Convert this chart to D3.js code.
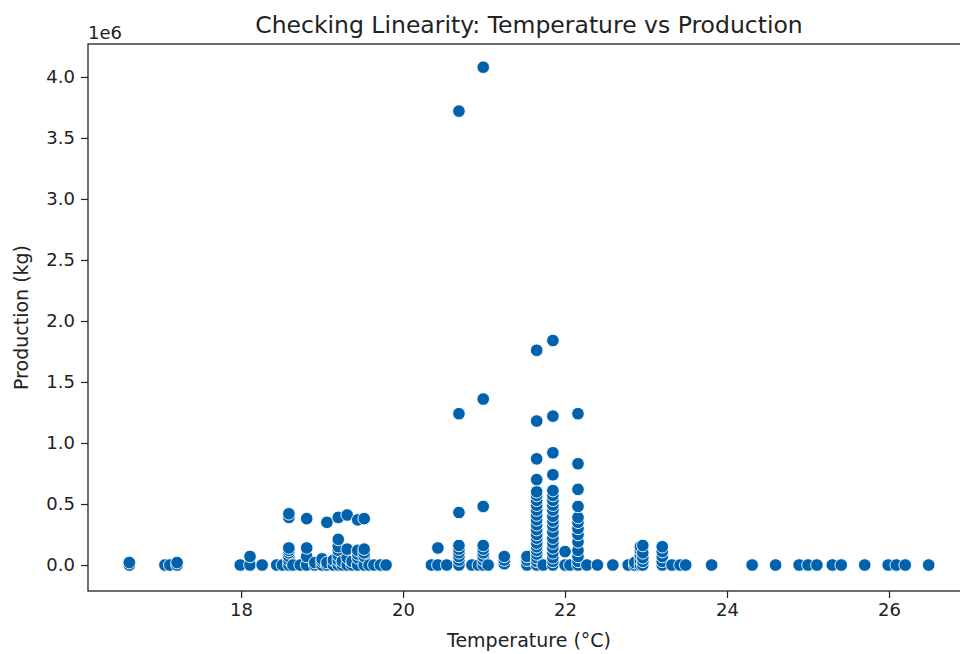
<!DOCTYPE html>
<meta charset="utf-8">
<style>
body { margin: 0; background: white; }
text { font-family: "DejaVu Sans", sans-serif; fill: #222; }
</style>
<script src="https://d3js.org/d3.v7.min.js"></script>
<div id="chart"></div>
<script>

// temperature columns (°C) and the productions (in kg) seen at each of them
var temps = [16.62, 17.06, 17.12, 17.21, 17.99, 18.11, 18.26,
  18.44, 18.51, 18.59, 18.64, 18.73, 18.81, 18.91, 19.0, 19.06, 19.14, 19.2,
  19.25, 19.31, 19.37, 19.44, 19.52, 19.58, 19.64, 19.72, 19.79,
  20.35, 20.43, 20.54, 20.69, 20.85, 20.93, 20.99, 21.05, 21.25, 21.53,
  21.65, 21.73, 21.85, 22.0, 22.06, 22.16, 22.27, 22.4, 22.59, 22.78, 22.86,
  22.93, 22.96, 23.2, 23.32, 23.42, 23.49, 23.81, 24.31, 24.6, 24.89, 25.0,
  25.11, 25.3, 25.41, 25.7, 25.99, 26.09, 26.2, 26.49];

// production values in millions of kg, one list per temperature above
var prodM = [
  [0, 0.02], [0], [0], [0, 0.02], [0], [0, 0.07], [0],
  [0], [0], [0, 0.04, 0.07, 0.1, 0.12, 0.14, 0.39, 0.42], [0], [0],
  [0, 0.07, 0.14, 0.38], [0, 0.02], [0, 0.03, 0.05], [0, 0.02, 0.35], [0, 0.04],
  [0, 0.04, 0.08, 0.12, 0.15, 0.21, 0.39],
  [0, 0.03], [0, 0.06, 0.13, 0.41], [0, 0.03], [0, 0.06, 0.09, 0.12, 0.37],
  [0, 0.07, 0.1, 0.13, 0.38], [0], [0], [0], [0],
  [0], [0, 0.14], [0], [0, 0.04, 0.07, 0.1, 0.13, 0.16, 0.43, 1.24, 3.72], [0], [0],
  [0, 0.04, 0.07, 0.1, 0.13, 0.16, 0.48, 1.36, 4.08], [0], [0.01, 0.04, 0.07], [0, 0.04, 0.07],
  [0, 0.03, 0.06, 0.09, 0.12, 0.15, 0.18, 0.22, 0.25, 0.29, 0.33, 0.37, 0.41, 0.45,
   0.49, 0.53, 0.57, 0.6, 0.7, 0.87, 1.18, 1.76],
  [0],
  [0, 0.03, 0.06, 0.1, 0.14, 0.18, 0.22, 0.27, 0.32, 0.36, 0.4, 0.45, 0.49, 0.53,
   0.57, 0.61, 0.74, 0.92, 1.22, 1.84],
  [0, 0.11], [0],
  [0, 0.03, 0.07, 0.12, 0.19, 0.25, 0.3, 0.35, 0.39, 0.48, 0.62, 0.83, 1.24],
  [0], [0], [0], [0], [0, 0.02],
  [0, 0.04, 0.08, 0.12, 0.15], [0, 0.03, 0.06, 0.1, 0.16], [0, 0.03, 0.07, 0.11, 0.15],
  [0], [0], [0], [0], [0], [0], [0], [0],
  [0], [0], [0], [0], [0], [0], [0], [0]
];

var xTicks = [18, 20, 22, 24, 26];
var yTicks = [0, 0.5, 1.0, 1.5, 2.0, 2.5, 3.0, 3.5, 4.0];

var points = [];
temps.forEach(function(t, i) {
  prodM[i].forEach(function(p) { points.push({temp: t, prod: p * 1e6}); });
});

var W = 960, H = 654;
var plotL = 88, plotR = 970, plotT = 44, plotB = 591;
var tickFont = "18px", labelFont = "19px", titleFont = "23.5px";

var svg = d3.select("#chart").append("svg")
    .attr("width", W)
    .attr("height", H);

var x = d3.scaleLinear().domain([16.11, 27.0]).range([plotL, plotR]);
var y = d3.scaleLinear().domain([-0.213e6, 4.27e6]).range([plotB, plotT]);

// points
svg.append("g").selectAll("circle")
  .data(points)
  .enter().append("circle")
    .attr("cx", function(d) { return x(d.temp); })
    .attr("cy", function(d) { return y(d.prod); })
    .attr("r", 6.3)
    .attr("fill", "#0062ad")
    .attr("stroke", "white")
    .attr("stroke-width", 0.9);

// x axis
var xAxis = svg.append("g")
    .attr("transform", "translate(0," + plotB + ")")
    .call(d3.axisBottom(x).tickValues(xTicks).tickSize(7).tickPadding(5).tickFormat(d3.format("d")));
xAxis.select(".domain").remove();
xAxis.selectAll("text").style("font-size", tickFont).attr("fill", "#222")
  .style("font-family", "DejaVu Sans");
xAxis.selectAll("line").attr("stroke", "#222").attr("stroke-width", 1.2);

// y axis
var yAxis = svg.append("g")
    .attr("transform", "translate(" + plotL + ",0)")
    .call(d3.axisLeft(y).tickValues(yTicks.map(function(v) { return v * 1e6; }))
      .tickSize(7).tickPadding(6)
      .tickFormat(function(v) { return (v / 1e6).toFixed(1); }));
yAxis.select(".domain").remove();
yAxis.selectAll("text").style("font-size", tickFont).attr("fill", "#222")
  .style("font-family", "DejaVu Sans");
yAxis.selectAll("line").attr("stroke", "#222").attr("stroke-width", 1.2);

// frame
svg.append("rect")
    .attr("x", plotL).attr("y", plotT)
    .attr("width", plotR - plotL).attr("height", plotB - plotT)
    .attr("fill", "none")
    .attr("stroke", "#222")
    .attr("stroke-width", 1.3);

// offset text
svg.append("text")
    .attr("x", plotL)
    .attr("y", 39)
    .style("font-size", tickFont)
    .text("1e6");

// title
svg.append("text")
    .attr("x", (plotL + plotR) / 2)
    .attr("y", 33)
    .attr("text-anchor", "middle")
    .style("font-size", titleFont)
    .text("Checking Linearity: Temperature vs Production");

// axis labels
svg.append("text")
    .attr("x", (plotL + plotR) / 2)
    .attr("y", 647)
    .attr("text-anchor", "middle")
    .style("font-size", labelFont)
    .text("Temperature (°C)");

svg.append("text")
    .attr("transform", "translate(28," + ((plotT + plotB) / 2) + ") rotate(-90)")
    .attr("text-anchor", "middle")
    .style("font-size", labelFont)
    .text("Production (kg)");

</script>
